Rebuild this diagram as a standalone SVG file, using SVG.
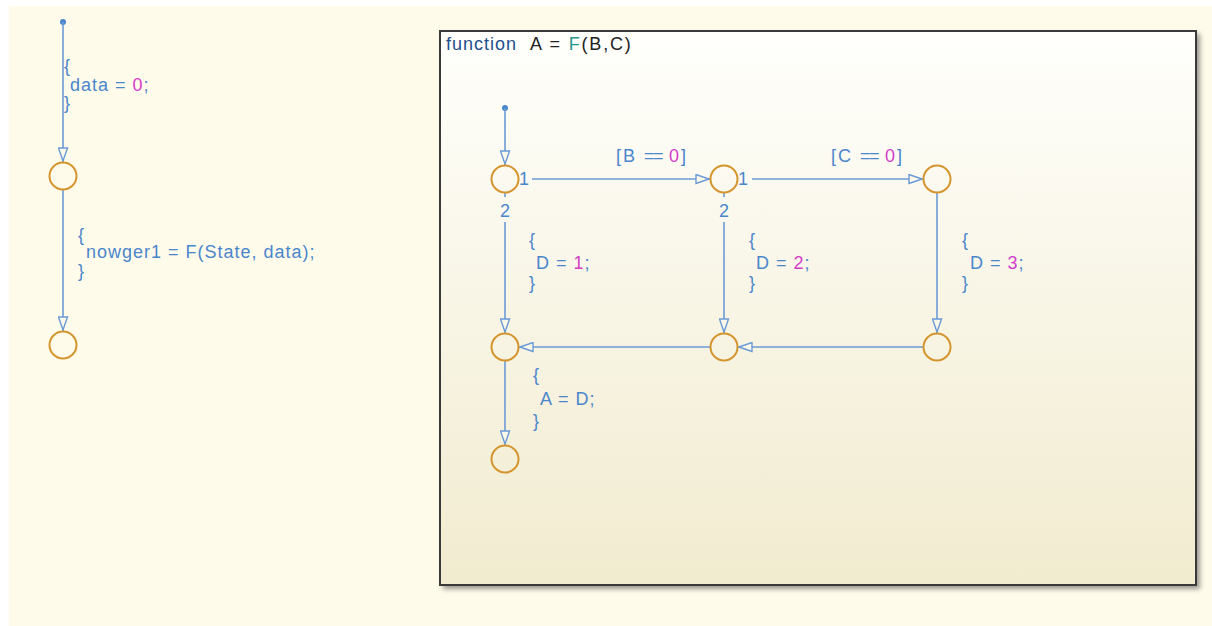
<svg xmlns="http://www.w3.org/2000/svg" width="1212" height="626" viewBox="0 0 1212 626">
<style>
text{font-family:"Liberation Sans",Arial,sans-serif;font-size:18px;fill:#4A86CC;letter-spacing:1px}
.num{fill:#D43CC8}
.j{fill:none;stroke:#D4952E;stroke-width:2}
.c{fill:none;stroke:#6B9BD6;stroke-width:1.6}
.eq{letter-spacing:-1.5px}
.g{letter-spacing:2px}
</style>
<defs>
<marker id="ah" viewBox="0 0 15 11" refX="15" refY="5.5" markerWidth="15" markerHeight="11" markerUnits="userSpaceOnUse" orient="auto">
<path d="M1,1 L14,5.5 L1,10 Z" fill="#FBF8EA" stroke="#6B9BD6" stroke-width="1.4"/>
</marker>
<linearGradient id="bg" x1="0" y1="0" x2="0" y2="1">
<stop offset="0" stop-color="#FFFFFC"/>
<stop offset="1" stop-color="#F1EBCF"/>
</linearGradient>
<filter id="sh" x="-5%" y="-5%" width="110%" height="110%">
<feGaussianBlur stdDeviation="2.5"/>
</filter>
</defs>
<rect x="0" y="0" width="1212" height="626" fill="#FFFFFF"/>
<rect x="9" y="6" width="1203" height="620" fill="#FFFBEA"/>
<g id="function-box">
<rect x="443" y="34" width="757" height="555" fill="#555" opacity="0.6" filter="url(#sh)"/>
<rect x="440" y="31" width="756" height="554" fill="url(#bg)" stroke="#3A3A3A" stroke-width="2"/>
<text x="446" y="50" style="fill:#1F4F8F">function</text>
<text x="530" y="50" style="fill:#222;letter-spacing:1.8px">A = <tspan style="fill:#23968F">F</tspan>(B,C)</text>
</g>
<g id="connectors">
<circle cx="63" cy="22" r="3" fill="#4A86CC"/>
<line class="c" x1="63" y1="22" x2="63" y2="162" marker-end="url(#ah)"/>
<line class="c" x1="63" y1="190" x2="63" y2="331" marker-end="url(#ah)"/>
<circle cx="505" cy="108" r="3" fill="#4A86CC"/>
<line class="c" x1="505" y1="108" x2="505" y2="165" marker-end="url(#ah)"/>
<line class="c" x1="532" y1="179" x2="710" y2="179" marker-end="url(#ah)"/>
<line class="c" x1="752" y1="179" x2="923" y2="179" marker-end="url(#ah)"/>
<line class="c" x1="505" y1="193" x2="505" y2="197"/>
<line class="c" x1="505" y1="222" x2="505" y2="333" marker-end="url(#ah)"/>
<line class="c" x1="724" y1="193" x2="724" y2="197"/>
<line class="c" x1="724" y1="222" x2="724" y2="333" marker-end="url(#ah)"/>
<line class="c" x1="937" y1="193" x2="937" y2="333" marker-end="url(#ah)"/>
<line class="c" x1="923" y1="347" x2="738" y2="347" marker-end="url(#ah)"/>
<line class="c" x1="710" y1="347" x2="519" y2="347" marker-end="url(#ah)"/>
<line class="c" x1="505" y1="361" x2="505" y2="445" marker-end="url(#ah)"/>
</g>
<g id="labels">
<text x="64" y="72">{</text>
<text x="70" y="91">data = <tspan class="num">0</tspan>;</text>
<text x="64" y="109">}</text>
<text x="78" y="241">{</text>
<text x="86" y="258">nowger1 = F(State, data);</text>
<text x="78" y="277">}</text>
<text x="616" y="162" class="g">[B <tspan class="eq">==</tspan> <tspan class="num">0</tspan>]</text>
<text x="831" y="162" class="g">[C <tspan class="eq">==</tspan> <tspan class="num">0</tspan>]</text>
<text x="519" y="185">1</text>
<text x="738" y="185">1</text>
<text x="500" y="217">2</text>
<text x="719" y="217">2</text>
<text x="529" y="246">{</text>
<text x="536" y="269">D = <tspan class="num">1</tspan>;</text>
<text x="529" y="289">}</text>
<text x="749" y="246">{</text>
<text x="756" y="269">D = <tspan class="num">2</tspan>;</text>
<text x="749" y="289">}</text>
<text x="962" y="246">{</text>
<text x="970" y="269">D = <tspan class="num">3</tspan>;</text>
<text x="962" y="289">}</text>
<text x="533" y="381">{</text>
<text x="540" y="405">A = D;</text>
<text x="533" y="427">}</text>
</g>
<g id="j-left-1"><circle class="j" cx="63" cy="176" r="13.5"/></g>
<g id="j-left-2"><circle class="j" cx="63" cy="345" r="13.5"/></g>
<g id="j1"><circle class="j" cx="505" cy="179" r="13.5"/></g>
<g id="j2"><circle class="j" cx="724" cy="179" r="13.5"/></g>
<g id="j3"><circle class="j" cx="937" cy="179" r="13.5"/></g>
<g id="j4"><circle class="j" cx="505" cy="347" r="13.5"/></g>
<g id="j5"><circle class="j" cx="724" cy="347" r="13.5"/></g>
<g id="j6"><circle class="j" cx="937" cy="347" r="13.5"/></g>
<g id="j7"><circle class="j" cx="505" cy="459" r="13.5"/></g>
</svg>
